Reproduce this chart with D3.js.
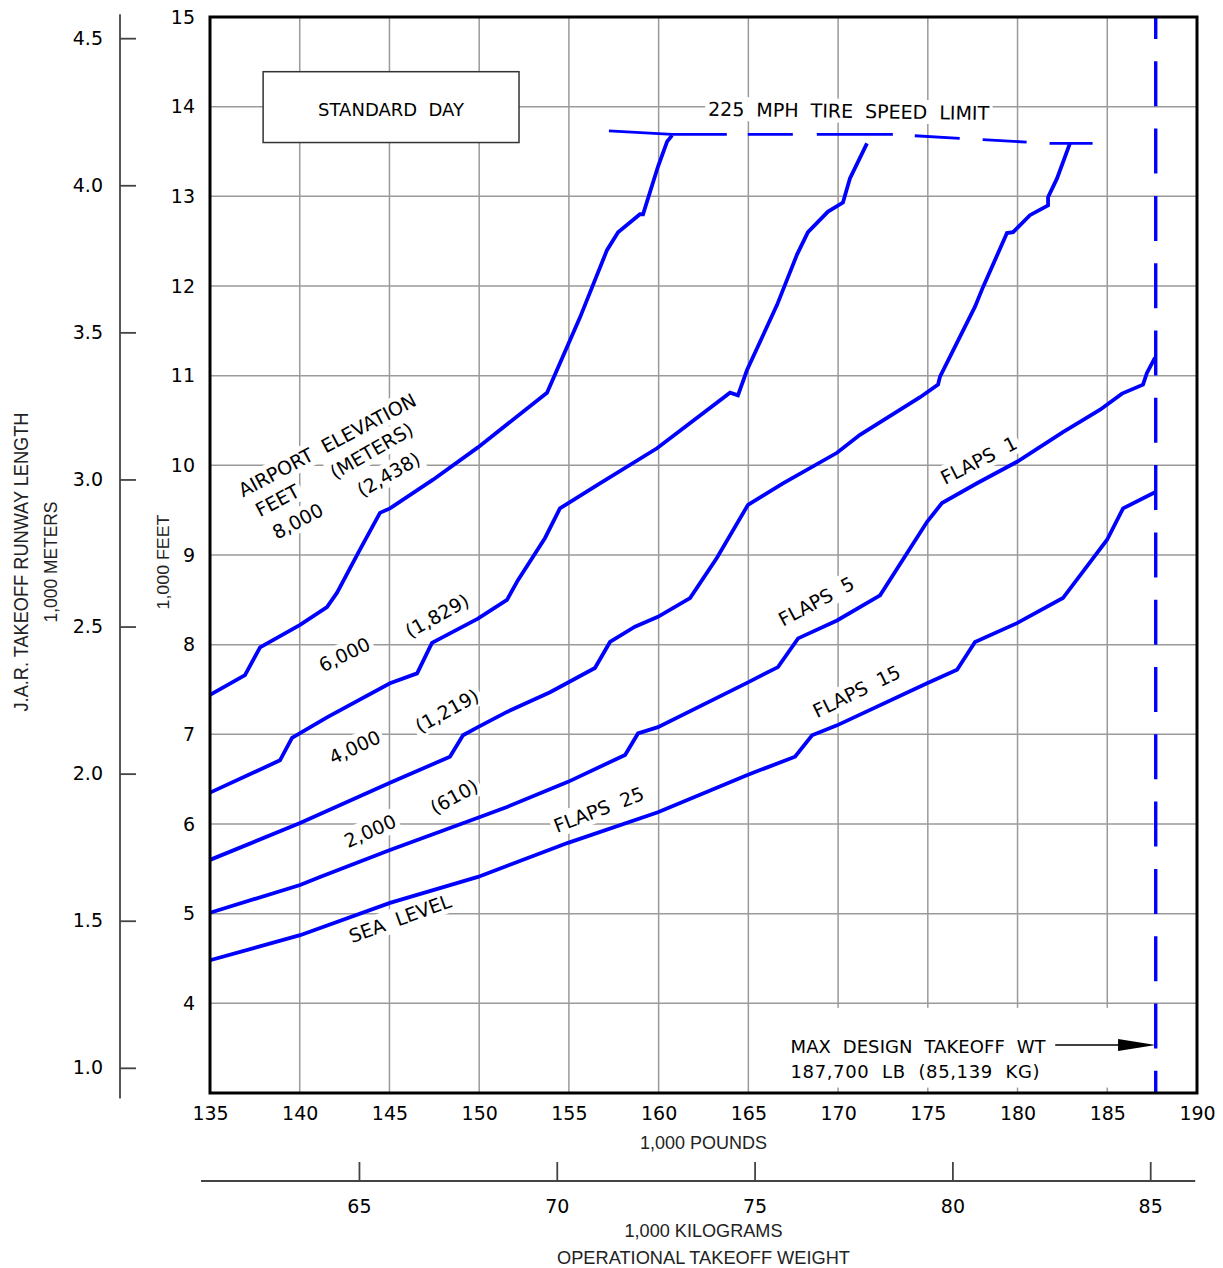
<!DOCTYPE html>
<html>
<head>
<meta charset="utf-8">
<script src="https://cdn.jsdelivr.net/npm/d3@7"></script>
<style>
  html, body { margin: 0; padding: 0; background: #fff; }
  svg { display: block; }
  text { white-space: pre; }
</style>
</head>
<body>
<svg id="chart" width="1223" height="1268"></svg>
<script>
// ---------------- DATA ----------------
// x: operational takeoff weight (1,000 lb); y: takeoff runway length (1,000 ft)
const xTicks = [135, 140, 145, 150, 155, 160, 165, 170, 175, 180, 185, 190];
const yTicks = [4, 5, 6, 7, 8, 9, 10, 11, 12, 13, 14, 15];
const meterTicks = [1.0, 1.5, 2.0, 2.5, 3.0, 3.5, 4.0, 4.5];
const kgTicks = [65, 70, 75, 80, 85];

const seaLevel = [
  [135.00, 4.48], [140.02, 4.76], [145.03, 5.12], [149.93, 5.41], [154.95, 5.79],
  [159.96, 6.13], [164.98, 6.55], [167.60, 6.75], [168.55, 6.99], [169.94, 7.10],
  [174.96, 7.57], [176.63, 7.72], [177.63, 8.03], [179.97, 8.24], [182.53, 8.52],
  [184.99, 9.17], [185.88, 9.52], [187.66, 9.70]
];
const elev2000 = [
  [135.00, 5.01], [140.02, 5.32], [141.13, 5.41], [145.03, 5.71], [149.93, 6.07],
  [151.55, 6.19], [154.95, 6.47], [158.13, 6.77], [158.85, 7.01], [159.96, 7.08],
  [164.98, 7.58], [166.65, 7.75], [167.77, 8.07], [169.94, 8.27], [172.34, 8.55],
  [174.96, 9.37], [175.79, 9.58], [177.74, 9.80], [179.97, 10.04], [182.53, 10.37],
  [184.60, 10.62], [185.82, 10.80], [186.99, 10.90], [187.21, 11.03], [187.66, 11.20]
];
const elev4000 = [
  [135.00, 5.60], [140.02, 6.01], [145.03, 6.46], [148.37, 6.75], [149.10, 6.99],
  [149.93, 7.08], [151.55, 7.25], [153.95, 7.47], [156.45, 7.74], [157.29, 8.03],
  [158.68, 8.20], [159.96, 8.31], [161.75, 8.52], [163.25, 8.97], [164.98, 9.56],
  [166.93, 9.80], [169.94, 10.14], [171.22, 10.34], [174.57, 10.76], [175.57, 10.90],
  [175.68, 10.99], [177.63, 11.77], [178.08, 11.99], [179.41, 12.59], [179.75, 12.60],
  [180.69, 12.79], [181.70, 12.90], [181.70, 12.99], [182.20, 13.20], [182.92, 13.59]
];
const elev6000 = [
  [135.00, 6.35], [138.90, 6.71], [139.57, 6.96], [141.52, 7.19], [145.03, 7.57],
  [146.54, 7.68], [147.37, 8.02], [149.93, 8.29], [151.55, 8.50], [152.16, 8.72],
  [153.67, 9.19], [154.50, 9.52], [156.73, 9.80], [159.91, 10.19], [163.98, 10.81],
  [164.42, 10.78], [164.92, 11.06], [166.60, 11.79], [167.71, 12.35], [168.32, 12.60],
  [169.44, 12.83], [170.27, 12.93], [170.66, 13.20], [171.61, 13.59]
];
const elev8000 = [
  [135.00, 7.44], [136.95, 7.66], [137.79, 7.97], [140.02, 8.22], [141.52, 8.42],
  [142.08, 8.58], [143.25, 9.02], [144.47, 9.47], [145.03, 9.52], [147.43, 9.84],
  [149.93, 10.20], [153.78, 10.81], [155.62, 11.65], [157.12, 12.40], [157.74, 12.60],
  [158.96, 12.80], [159.13, 12.80], [159.96, 13.33], [160.47, 13.61], [160.75, 13.68]
];
const tireSpeedLimit = [
  [157.23, 13.73], [160.75, 13.69], [173.00, 13.69], [181.80, 13.59], [184.20, 13.59]
];
const maxDesignTakeoffWeight = 187.7; // 1,000 lb

const curves = [seaLevel, elev2000, elev4000, elev6000, elev8000];

// annotation labels: [text, x (1,000 lb), y (1,000 ft), angle]
const curveLabels = [
  ["AIRPORT  ELEVATION", 136.84, 9.64, -28],
  ["FEET", 137.79, 9.42, -28],
  ["(METERS)", 141.97, 9.84, -30],
  ["8,000", 138.73, 9.17, -28],
  ["(2,438)", 143.47, 9.64, -30],
  ["6,000", 141.30, 7.69, -26],
  ["(1,829)", 146.15, 8.07, -29],
  ["4,000", 141.85, 6.66, -25],
  ["(1,219)", 146.70, 7.01, -29],
  ["2,000", 142.69, 5.73, -24],
  ["(610)", 147.54, 6.10, -29],
  ["SEA  LEVEL", 142.91, 4.67, -20],
  ["FLAPS  25", 154.34, 5.90, -21],
  ["FLAPS  15", 168.83, 7.18, -26],
  ["FLAPS  5", 166.93, 8.20, -28],
  ["FLAPS  1", 175.96, 9.78, -27],
  ["225  MPH  TIRE  SPEED  LIMIT", 162.75, 13.90, 0.9]
];

const LB_PER_KG = 2.20462;
const FT_PER_M = 3.28084;

// ---------------- SCALES ----------------
const svg = d3.select("#chart");
const x = d3.scaleLinear().domain([135, 190]).range([210, 1197]);
const y = d3.scaleLinear().domain([3, 15]).range([1093, 17]);
const kg = d3.scaleLinear().domain([135 / LB_PER_KG, 190 / LB_PER_KG]).range([210, 1197]);
const m = d3.scaleLinear().domain([3 / FT_PER_M, 15 / FT_PER_M]).range([1093, 17]);

const CAD = "'DejaVu Sans', sans-serif";
const NARROW = "'Liberation Sans Narrow', 'Liberation Sans', Arial, sans-serif";
const BLUE = "#0000ff";
const GRID = "#9a9a9a";

svg.append("rect").attr("width", 1223).attr("height", 1268).attr("fill", "#fff");

// ---------------- GRID ----------------
const grid = svg.append("g");
grid.selectAll("line.v").data(xTicks.filter(d => d > 135 && d < 190)).join("line")
  .attr("x1", d => x(d)).attr("x2", d => x(d)).attr("y1", y(15)).attr("y2", y(3))
  .attr("stroke", GRID).attr("stroke-width", 1.5);
grid.selectAll("line.h").data(yTicks.filter(d => d < 15)).join("line")
  .attr("x1", x(135)).attr("x2", x(190)).attr("y1", d => y(d)).attr("y2", d => y(d))
  .attr("stroke", GRID).attr("stroke-width", 1.5);

// white panel behind max weight note
svg.append("rect")
  .attr("x", x(166.9)).attr("y", y(3.95))
  .attr("width", x(185.45) - x(166.9)).attr("height", y(3.06) - y(3.95))
  .attr("fill", "#fff");

// ---------------- LABELS (white background boxes) ----------------
const bgLayer = svg.append("g");
const txtLayer = svg.append("g");
curveLabels.forEach(d => {
  const tf = `translate(${x(d[1])},${y(d[2])}) rotate(${d[3]})`;
  const t = txtLayer.append("text")
    .attr("transform", tf)
    .attr("font-family", CAD).attr("font-size", 19).attr("fill", "#000")
    .text(d[0]);
  const bb = t.node().getBBox();
  const pad = 3;
  bgLayer.append("rect")
    .attr("transform", tf)
    .attr("x", bb.x - pad).attr("y", bb.y - pad + 2)
    .attr("width", bb.width + 2 * pad).attr("height", bb.height + 2 * pad - 4)
    .attr("fill", "#fff");
});

// Standard day box
svg.append("rect")
  .attr("x", x(137.96)).attr("y", y(14.39))
  .attr("width", x(152.22) - x(137.96)).attr("height", y(13.60) - y(14.39))
  .attr("fill", "#fff").attr("stroke", "#333").attr("stroke-width", 1.5);
svg.append("text")
  .attr("x", (x(137.96) + x(152.22)) / 2).attr("y", y(13.96) + 6)
  .attr("text-anchor", "middle")
  .attr("font-family", CAD).attr("font-size", 18).attr("fill", "#000")
  .text("STANDARD  DAY");

// ---------------- CURVES ----------------
const line = d3.line().x(d => x(d[0])).y(d => y(d[1]));
svg.append("g").selectAll("path").data(curves).join("path")
  .attr("d", line)
  .attr("fill", "none").attr("stroke", BLUE).attr("stroke-width", 3.8)
  .attr("stroke-linejoin", "miter");

// tire speed limit line
svg.append("path").attr("d", line(tireSpeedLimit))
  .attr("fill", "none").attr("stroke", BLUE).attr("stroke-width", 2.8)
  .attr("stroke-dasharray", "118,21,45,24,76,22,45,23,44,23,43,200");

// max design takeoff weight dashed line
svg.append("line")
  .attr("x1", x(maxDesignTakeoffWeight)).attr("x2", x(maxDesignTakeoffWeight))
  .attr("y1", y(15)).attr("y2", y(3))
  .attr("stroke", BLUE).attr("stroke-width", 3.4)
  .attr("stroke-dasharray", "45,22.3").attr("stroke-dashoffset", 23);

// ---------------- MAX WEIGHT NOTE ----------------
const noteY = y(3.535);
svg.append("line")
  .attr("x1", x(182.1)).attr("x2", x(186)).attr("y1", noteY).attr("y2", noteY)
  .attr("stroke", "#000").attr("stroke-width", 1.5);
svg.append("polygon")
  .attr("points", [[x(185.6), noteY - 6], [x(maxDesignTakeoffWeight), noteY], [x(185.6), noteY + 6]].join(" "))
  .attr("fill", "#000");
svg.append("text")
  .attr("x", x(167.35)).attr("y", noteY + 8)
  .attr("font-family", CAD).attr("font-size", 18).attr("fill", "#000")
  .attr("textLength", 255)
  .text("MAX  DESIGN  TAKEOFF  WT");
svg.append("text")
  .attr("x", x(167.35)).attr("y", noteY + 33)
  .attr("font-family", CAD).attr("font-size", 18).attr("fill", "#000")
  .attr("textLength", 249)
  .text("187,700  LB  (85,139  KG)");

// ---------------- FRAME ----------------
svg.append("rect")
  .attr("x", x(135)).attr("y", y(15))
  .attr("width", x(190) - x(135)).attr("height", y(3) - y(15))
  .attr("fill", "none").attr("stroke", "#000").attr("stroke-width", 3);

// ---------------- AXES ----------------
const styleAxis = (g, size) => {
  g.selectAll("text").attr("font-family", CAD).attr("font-size", size).attr("fill", "#000");
};

// bottom lb axis
svg.append("g").attr("transform", `translate(0,${y(3)})`)
  .call(d3.axisBottom(x).tickValues(xTicks).tickSize(0).tickPadding(14).tickFormat(d3.format("d")))
  .call(g => g.select(".domain").remove())
  .call(g => styleAxis(g, 19));

// left feet axis
svg.append("g").attr("transform", `translate(${x(135)},0)`)
  .call(d3.axisLeft(y).tickValues(yTicks).tickSize(0).tickPadding(15).tickFormat(d3.format("d")))
  .call(g => g.select(".domain").remove())
  .call(g => styleAxis(g, 19));

// meters axis
const mAxisX = 120;
svg.append("line")
  .attr("x1", mAxisX).attr("x2", mAxisX).attr("y1", y(15.03)).attr("y2", y(2.94))
  .attr("stroke", "#444").attr("stroke-width", 1.8);
svg.append("g").attr("transform", `translate(${mAxisX},0)`)
  .call(d3.axisLeft(m).tickValues(meterTicks).tickSize(-16).tickPadding(17).tickFormat(d3.format(".1f")))
  .call(g => g.select(".domain").remove())
  .call(g => g.selectAll(".tick line").attr("stroke", "#444").attr("stroke-width", 1.8))
  .call(g => styleAxis(g, 19));

// kg axis
const kgAxisY = 1181;
svg.append("line")
  .attr("x1", x(134.5)).attr("x2", x(189.9)).attr("y1", kgAxisY).attr("y2", kgAxisY)
  .attr("stroke", "#444").attr("stroke-width", 1.8);
svg.append("g").attr("transform", `translate(0,${kgAxisY})`)
  .call(d3.axisBottom(kg).tickValues(kgTicks).tickSize(-19).tickPadding(19).tickFormat(d3.format("d")))
  .call(g => g.select(".domain").remove())
  .call(g => g.selectAll(".tick line").attr("stroke", "#444").attr("stroke-width", 1.8))
  .call(g => styleAxis(g, 19));

// ---------------- AXIS TITLES ----------------
const midX = x(162.5);
const titles = [
  ["1,000 POUNDS", midX, 1149, 0, 18, 127],
  ["1,000 KILOGRAMS", midX, 1237, 0, 18, 158],
  ["OPERATIONAL TAKEOFF WEIGHT", midX, 1264, 0, 19, 293],
  ["J.A.R. TAKEOFF RUNWAY LENGTH", 28, 562, -90, 20, 299],
  ["1,000 METERS", 57, 562, -90, 18, 121],
  ["1,000 FEET", 169, 562, -90, 17, 95]
];
svg.append("g").selectAll("text").data(titles).join("text")
  .attr("transform", d => `translate(${d[1]},${d[2]}) rotate(${d[3]})`)
  .attr("text-anchor", "middle")
  .attr("font-family", NARROW).attr("font-size", d => d[4]).attr("fill", "#222")
  .attr("textLength", d => d[5]).attr("lengthAdjust", "spacingAndGlyphs")
  .text(d => d[0]);
</script>
</body>
</html>
